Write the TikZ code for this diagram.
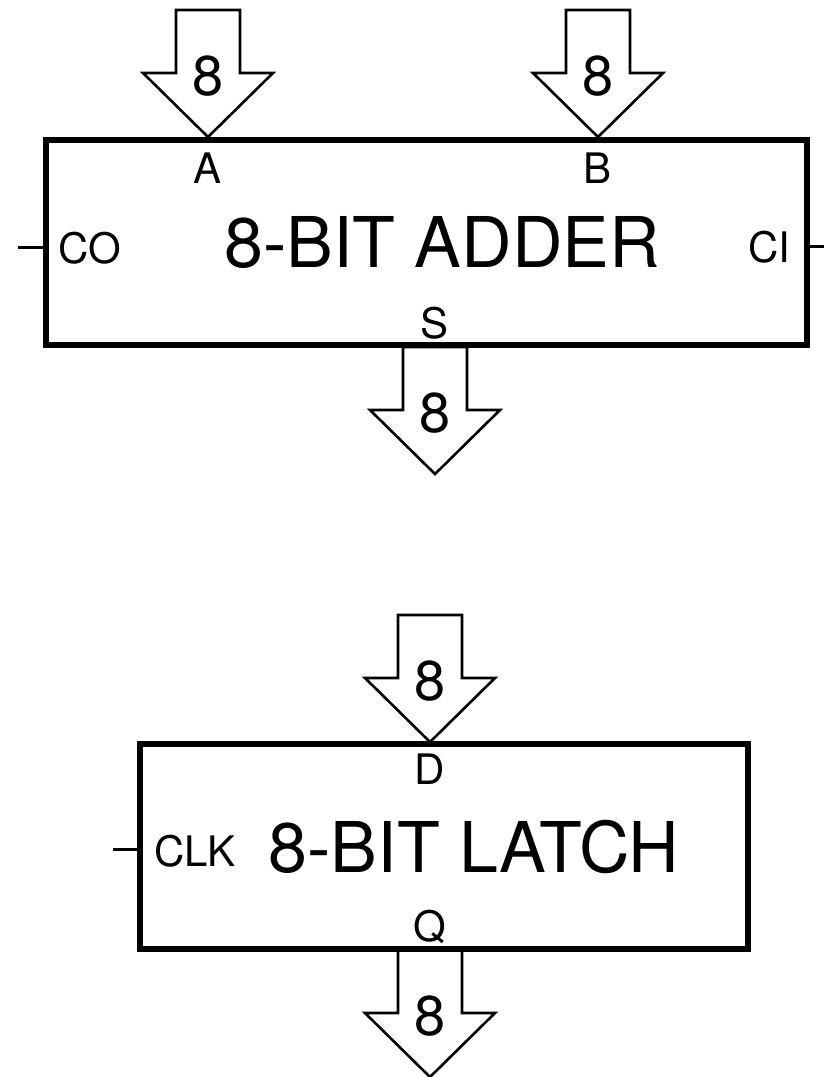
\documentclass[tikz,border=0pt]{standalone}
\usepackage{fontspec}
\setmainfont{TeX Gyre Heros}
\tikzset{
  box/.style={draw, line width=6pt, minimum height=205pt, inner sep=0pt},
  bus/.style={draw, line width=2.6pt, line join=miter},
  stub/.style={draw, line width=3pt},
  buslbl/.style={font=\fontsize{56}{60}\selectfont, inner sep=0pt},
  lbl/.style={font=\fontsize{42}{48}\selectfont, inner sep=0pt},
  ttl/.style={font=\fontsize{70}{80}\selectfont, inner sep=0pt},
  busarrow/.pic={
    \draw[bus] (0,0) -- (-65,-64) -- (-32,-64) -- (-32,-127) -- (32,-127) -- (32,-64) -- (65,-64) -- cycle;
    \node[buslbl] (-n) at (0,-61) {8};
  }
}
\begin{document}
\begin{tikzpicture}[x=1pt,y=-1pt]
\useasboundingbox (0,0) rectangle (824,1077);
% adder
\node[box, minimum width=761pt] (adder) at (426.5,242.5) {};
\node[ttl] (addt) at (442,243) {8-BIT ADDER};
\node[lbl] (la) at (208,168) {A};
\node[lbl] (lb) at (598,168) {B};
\node[lbl] (ls) at (435,323) {S};
\node[lbl] (lco) at (90,248) {CO};
\node[lbl] (lci) at (769,247) {CI};
\pic (pa) at (208,137) {busarrow};
\pic (pb) at (598,137) {busarrow};
\pic (ps) at (435,474) {busarrow};
\coordinate (co) at (18,247);
\coordinate (ci) at (824,246);
\draw[stub] (co) -- (co -| adder.west);
\draw[stub] (ci) -- (ci -| adder.east);
% latch
\node[box, minimum width=608pt] (latch) at (444,846.5) {};
\node[ttl] (latt) at (474,847) {8-BIT LATCH};
\node[lbl] (ld) at (430,769) {D};
\node[lbl] (lq) at (430,927) {Q};
\node[lbl] (lclk) at (195,851) {CLK};
\pic (pd) at (430,742) {busarrow};
\pic (pq) at (430,1077) {busarrow};
\coordinate (clk) at (113,849);
\draw[stub] (clk) -- (clk -| latch.west);
\end{tikzpicture}
\end{document}
